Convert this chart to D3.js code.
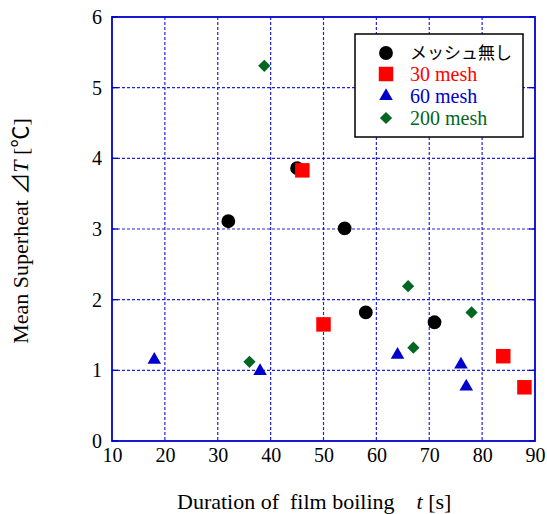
<!DOCTYPE html>
<html><head><meta charset="utf-8">
<script src="https://cdn.jsdelivr.net/npm/d3@7"></script>
<style>body{margin:0;background:#fff}svg{display:block}
.serif{font-family:"Liberation Serif","Tinos","Times New Roman","DejaVu Serif",serif}
.cjk{font-family:"Noto Sans CJK JP","Noto Sans CJK SC",sans-serif}
</style>
</head><body><svg id="c" width="547" height="514"></svg>
<script>
const seriesNames = ["メッシュ無し", "30 mesh", "60 mesh", "200 mesh"];
const seriesColors = ["#000000", "#ff0000", "#0000cc", "#006622"];
const noMeshT = [32, 45, 54, 58, 71];
const noMeshDT = [3.11, 3.86, 3.01, 1.82, 1.68];
const mesh30T = [46, 50, 84, 88];
const mesh30DT = [3.83, 1.65, 1.20, 0.76];
const mesh60T = [18, 38, 64, 76, 77];
const mesh60DT = [1.15, 0.99, 1.22, 1.08, 0.77];
const mesh200T = [38.8, 36, 66, 78, 67];
const mesh200DT = [5.31, 1.12, 2.19, 1.82, 1.32];
const xTicks = [10,20,30,40,50,60,70,80,90];
const yTicks = [0,1,2,3,4,5,6];

const svg = d3.select("#c");
const L = 112, R = 535, T = 17, B = 441;
const x = d3.scaleLinear().domain([10,90]).range([L,R]);
const y = d3.scaleLinear().domain([0,6]).range([B,T]);
const gridC = "#2222dd";

// grid
const g = svg.append("g");
g.selectAll(".vg").data(xTicks.slice(1,-1)).join("line")
  .attr("x1", d=>x(d)).attr("x2", d=>x(d)).attr("y1", T).attr("y2", B)
  .attr("stroke", gridC).attr("stroke-width", 1.2).attr("stroke-dasharray", "3,2");
g.selectAll(".hg").data(yTicks.slice(1,-1)).join("line")
  .attr("y1", d=>y(d)).attr("y2", d=>y(d)).attr("x1", L).attr("x2", R)
  .attr("stroke", gridC).attr("stroke-width", 1.2).attr("stroke-dasharray", "3,2");

// axes
const xAxis = d3.axisBottom(x).tickValues(xTicks).tickFormat(d3.format("d")).tickSize(0).tickPadding(7);
const yAxis = d3.axisLeft(y).tickValues(yTicks).tickFormat(d3.format("d")).tickSize(0).tickPadding(10);
const gx = svg.append("g").attr("transform", `translate(0,${B})`).call(xAxis);
const gy = svg.append("g").attr("transform", `translate(${L},0)`).call(yAxis);
[gx, gy].forEach(a => {
  a.attr("font-family", null).attr("font-size", null);
  a.select(".domain").remove();
  a.selectAll("text").attr("class", "serif").attr("font-size", 20).attr("fill", "#000");
});
// inner ticks
svg.selectAll(".yt").data(yTicks).join("line")
  .attr("x1", L).attr("x2", L+6).attr("y1", d=>y(d)).attr("y2", d=>y(d)).attr("stroke", "#0000cc").attr("stroke-width", 1.3);
svg.selectAll(".yt2").data(yTicks).join("line")
  .attr("x1", R).attr("x2", R-6).attr("y1", d=>y(d)).attr("y2", d=>y(d)).attr("stroke", "#0000cc").attr("stroke-width", 1.3);

// border
svg.append("rect").attr("x", L).attr("y", T).attr("width", R-L).attr("height", B-T)
  .attr("fill", "none").attr("stroke", "#0000cc").attr("stroke-width", 1.8);

// markers
const symCircle = d3.symbol().type(d3.symbolCircle).size(150);
const symSquare = d3.symbol().type(d3.symbolSquare).size(210);
const symTri = d3.symbol().type(d3.symbolTriangle).size(80);
const symDia = d3.symbol().type(d3.symbolSquare).size(75);
const series = [
  {t: noMeshT, v: noMeshDT, sym: symCircle, rot: 0},
  {t: mesh30T, v: mesh30DT, sym: symSquare, rot: 0},
  {t: mesh60T, v: mesh60DT, sym: symTri, rot: 0},
  {t: mesh200T, v: mesh200DT, sym: symDia, rot: 45},
];
series.forEach((s, i) => {
  svg.append("g").selectAll("path").data(s.t.map((t,j)=>[t, s.v[j]])).join("path")
    .attr("d", s.sym)
    .attr("transform", d=>`translate(${x(d[0])},${y(d[1])}) rotate(${s.rot})`)
    .attr("fill", seriesColors[i]);
});

// legend
const lg = svg.append("g");
lg.append("rect").attr("x", 355).attr("y", 34).attr("width", 168).attr("height", 103)
  .attr("fill", "#fff").attr("stroke", "#000").attr("stroke-width", 1.5);
const rowsY = [53, 74, 96, 118];
series.forEach((s, i) => {
  lg.append("path").attr("d", s.sym).attr("transform", `translate(386,${rowsY[i]}) rotate(${s.rot})`)
    .attr("fill", seriesColors[i]);
  lg.append("text").attr("x", 410).attr("y", rowsY[i] + (i===0 ? 6 : 7)).text(seriesNames[i])
    .attr("class", i===0 ? "cjk" : "serif")
    .attr("font-size", i===0 ? 17 : 20).attr("fill", seriesColors[i]);
});

// axis titles
const xt = svg.append("text").attr("x", 177).attr("y", 509).attr("class", "serif").attr("font-size", 22).attr("fill", "#000").style("white-space", "pre");
xt.append("tspan").text("Duration of  film boiling    ");
xt.append("tspan").attr("font-style", "italic").text("t");
xt.append("tspan").text(" [s]");

const yt = svg.append("text").attr("transform", "translate(28,231) rotate(-90)").attr("text-anchor", "middle")
  .attr("class", "serif").attr("font-size", 22).attr("fill", "#000");
yt.append("tspan").text("Mean Superheat ");
yt.append("tspan").attr("class", "cjk").text("⊿");
yt.append("tspan").attr("font-style", "italic").text("T");
yt.append("tspan").text(" [");
yt.append("tspan").attr("class", "cjk").text("℃");
yt.append("tspan").text("]");
</script></body></html>
